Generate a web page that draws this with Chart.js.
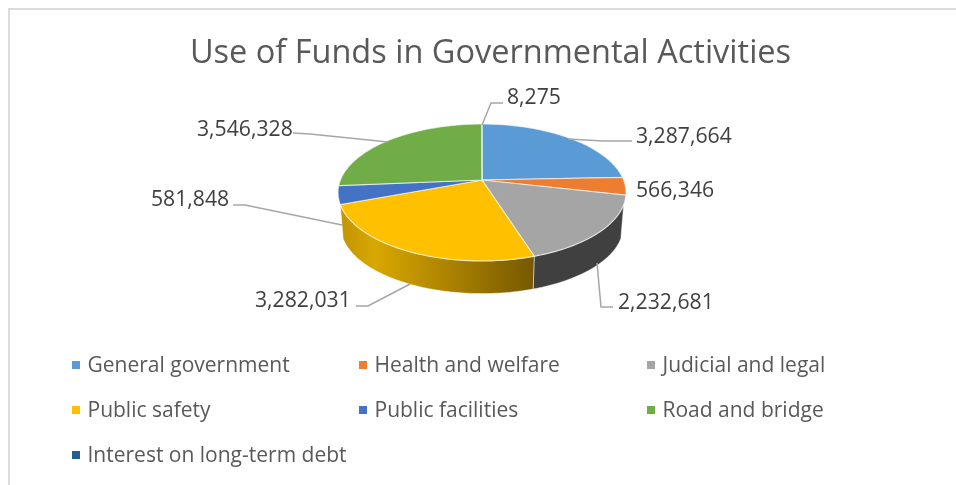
<!DOCTYPE html>
<html>
<head>
<meta charset="utf-8">
<title>Use of Funds in Governmental Activities</title>
<script src="https://cdn.jsdelivr.net/npm/chart.js@4/dist/chart.umd.min.js"></script>
<style>
    html, body { margin: 0; padding: 0; background: #fff; overflow: hidden; }
    #frame { position: absolute; left: 8px; top: 8px; width: 960px; height: 490px;
             border-left: 2px solid #dcdcdc; border-top: 2px solid #dcdcdc; }
    #chart { position: absolute; left: 0; top: 0; }
    #legend span { position: absolute; color: #595959; white-space: nowrap;
                   font: 21px "Open Sans", sans-serif; line-height: 28px; }
    #legend i { position: absolute; width: 8px; height: 8px; }
</style>
</head>
<body>
<div id="frame"></div>
<canvas id="chart" width="956" height="485"></canvas>
<div id="legend"></div>
<script>
const categories = ['General government', 'Health and welfare', 'Judicial and legal',
                    'Public safety', 'Public facilities', 'Road and bridge', 'Interest on long-term debt'];
const values = [3287664, 566346, 2232681, 3282031, 581848, 3546328, 8275];
const colors = ['#5b9bd5', '#ed7d31', '#a5a5a5', '#ffc000', '#4472c4', '#70ad47', '#255e91'];

// label anchor (left edge, middle) and leader line for each slice
const labelPos = [[636, 136.5], [636, 191], [618, 302.5], [255, 300.5], [151, 199.5], [197, 129.5], [507, 97.5]];
const leaders = [
    [[568, 139], [603, 141], [632, 141]],
    [],
    [[597, 263], [601, 307], [613, 307]],
    [[410, 284], [368, 306], [356, 306]],
    [[342, 225], [245, 205], [233, 205]],
    [[388, 142], [310, 134], [293, 133]],
    [[482, 125], [491, 103], [503, 103]]
];

// tilted disc projection, apex of the slices is not the middle of the ellipse
const APEX = { x: 482, y: 180 };
const TILT = { a: 66.2, b: 141.6, k: -0.182 };
const WALL = { drop: 34.3, shrink: 0.98, minSin: 0.35 };

function project(angle, shrink = 1, drop = 0) {
    const w = 1 + TILT.k * Math.sin(angle);
    return {
        x: APEX.x + shrink * TILT.b * Math.cos(angle) / w,
        y: APEX.y + drop + shrink * TILT.a * Math.sin(angle) / w
    };
}

function rimPath(ctx, from, to, shrink, drop) {
    const steps = Math.max(2, Math.ceil(Math.abs(to - from) / 0.02));
    for (let i = 0; i <= steps; i++) {
        const p = project(from + (to - from) * i / steps, shrink, drop);
        ctx.lineTo(p.x, p.y);
    }
}

function wallFill(ctx, i) {
    const g = ctx.createLinearGradient(340, 0, 535, 0);
    if (i === 3) {
        g.addColorStop(0, '#c29400');
        g.addColorStop(0.18, '#d8a800');
        g.addColorStop(0.55, '#ad8300');
        g.addColorStop(1, '#755800');
        return g;
    }
    if (i === 2) return '#404040';
    return colors[i];
}

const pie3d = {
    id: 'pie3d',
    beforeDatasetsDraw(chart) {
        const ctx = chart.ctx;
        const arcs = chart.getDatasetMeta(0).data;
        const lo = Math.asin(WALL.minSin), hi = Math.PI - lo;

        // side walls
        arcs.forEach((arc, i) => {
            const from = Math.max(arc.startAngle, lo), to = Math.min(arc.endAngle, hi);
            if (to <= from) return;
            ctx.beginPath();
            rimPath(ctx, from, to, 1, 0);
            rimPath(ctx, to, from, WALL.shrink, WALL.drop);
            ctx.closePath();
            ctx.fillStyle = wallFill(ctx, i);
            ctx.fill();
            ctx.strokeStyle = 'rgba(255,255,255,.45)';
            ctx.lineWidth = 1;
            ctx.stroke();
        });

        // top faces
        arcs.forEach((arc, i) => {
            ctx.beginPath();
            ctx.moveTo(APEX.x, APEX.y);
            rimPath(ctx, arc.startAngle, arc.endAngle, 1, 0);
            ctx.closePath();
            ctx.fillStyle = colors[i];
            ctx.fill();
            ctx.strokeStyle = 'rgba(255,255,255,.6)';
            ctx.lineWidth = 1.2;
            ctx.stroke();
        });

        // leader lines and value labels
        ctx.strokeStyle = '#a6a6a6';
        ctx.lineWidth = 1.5;
        leaders.forEach(line => {
            if (!line.length) return;
            ctx.beginPath();
            line.forEach(p => ctx.lineTo(p[0], p[1]));
            ctx.stroke();
        });
        ctx.fillStyle = '#404040';
        ctx.font = '21.2px "Open Sans", sans-serif';
        ctx.textAlign = 'left';
        ctx.textBaseline = 'middle';
        values.forEach((v, i) => {
            ctx.fillText(v.toLocaleString('en-US'), labelPos[i][0], labelPos[i][1]);
        });
        return false;
    }
};

new Chart(document.getElementById('chart'), {
    type: 'pie',
    data: { labels: categories, datasets: [{ data: values, backgroundColor: colors }] },
    plugins: [pie3d],
    options: {
        responsive: false,
        animation: false,
        devicePixelRatio: 1,
        layout: { padding: { left: 25, bottom: 20 } },
        plugins: {
            legend: { display: false },
            tooltip: { enabled: false },
            title: {
                display: true,
                text: 'Use of Funds in Governmental Activities',
                color: '#595959',
                font: { family: '"Open Sans", sans-serif', size: 32.5, weight: 'normal' },
                padding: { top: 34, bottom: 10 }
            }
        }
    }
});

// legend sits on a fixed three column grid
const legendEl = document.getElementById('legend');
const colX = [72, 359, 647], rowY = [365, 410, 455];
categories.forEach((name, i) => {
    const x = colX[i % 3], y = rowY[Math.floor(i / 3)];
    legendEl.insertAdjacentHTML('beforeend',
        `<i style="left:${x}px;top:${y - 4}px;background:${colors[i]}"></i>` +
        `<span style="left:${x + 15.5}px;top:${y - 15}px">${name}</span>`);
});
</script>
</body>
</html>
